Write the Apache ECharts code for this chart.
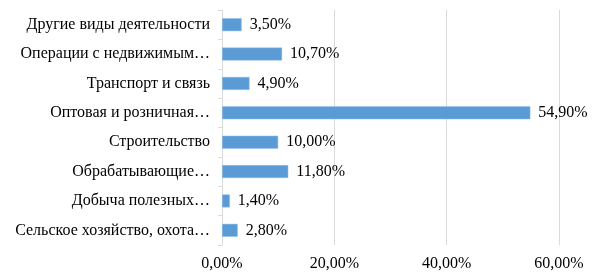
<!DOCTYPE html>
<html>
<head>
<meta charset="utf-8">
<script src="https://cdn.jsdelivr.net/npm/echarts@6/dist/echarts.min.js"></script>
<style>
  html, body { margin: 0; padding: 0; background: #fff; }
  #chart { width: 616px; height: 279px; }
</style>
</head>
<body>
<div id="chart"></div>
<script>
// категории снизу вверх
const categories = [
  'Сельское хозяйство, охота…',
  'Добыча полезных…',
  'Обрабатывающие…',
  'Строительство',
  'Оптовая и розничная…',
  'Транспорт и связь',
  'Операции с недвижимым…',
  'Другие виды деятельности'
];
const values = [2.8, 1.4, 11.8, 10.0, 54.9, 4.9, 10.7, 3.5];
const xTicks = [0, 20, 40, 60];

const fmt = (v) => v.toFixed(2).replace('.', ',') + '%';
const font = 'Liberation Serif, Times New Roman, serif';

const chart = echarts.init(document.getElementById('chart'));
chart.setOption({
  animation: false,
  grid: { left: 222, right: 57, top: 10, bottom: 34, containLabel: false },
  xAxis: {
    type: 'value',
    min: xTicks[0],
    max: xTicks[xTicks.length - 1],
    interval: 20,
    axisLine: { show: false },
    axisTick: { show: false },
    splitLine: { lineStyle: { color: '#d9d9d9' } },
    axisLabel: { formatter: fmt, color: '#000', fontFamily: font, fontSize: 16, margin: 11 }
  },
  yAxis: {
    type: 'category',
    data: categories,
    axisLine: { lineStyle: { color: '#d9d9d9' } },
    axisTick: { show: true, length: 4, lineStyle: { color: '#d9d9d9' } },
    axisLabel: { color: '#000', fontFamily: font, fontSize: 16, margin: 12 }
  },
  series: [{
    type: 'bar',
    data: values,
    barWidth: 13,
    itemStyle: { color: '#5b9bd5', borderColor: '#9dc3e6', borderWidth: 0.5 },
    label: {
      show: true,
      position: 'right',
      distance: 8,
      formatter: (p) => fmt(p.value),
      color: '#000',
      fontFamily: font,
      fontSize: 16
    }
  }]
});
</script>
</body>
</html>
